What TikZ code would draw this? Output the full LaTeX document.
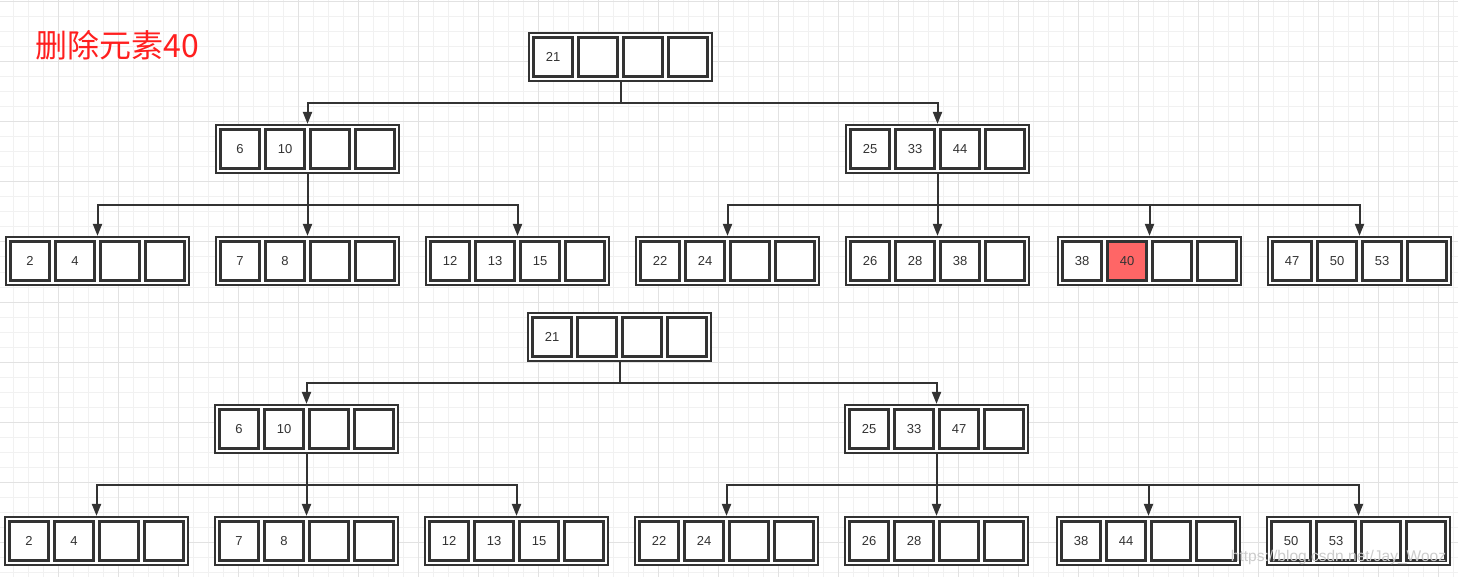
\documentclass[tikz,border=0pt]{standalone}
\usepackage{fontspec}
\setmainfont{Liberation Sans}
\newfontfamily\cjk{Noto Sans CJK SC}
\usetikzlibrary{arrows.meta}
\definecolor{ink}{HTML}{333333}
\definecolor{gridminor}{RGB}{241,241,241}
\definecolor{gridmajor}{RGB}{226,226,226}
\definecolor{hl}{HTML}{FF6666}
\definecolor{titlered}{HTML}{FF1F1F}
\tikzset{
  outerbox/.style={draw=ink, line width=2.2pt, fill=white, minimum width=183pt, minimum height=48pt, inner sep=0pt},
  cell/.style={draw=ink, line width=2.2pt, fill=white, minimum size=39pt, inner sep=0pt, text=ink, font=\fontsize{13}{13}\selectfont},
  conn/.style={draw=ink, line width=2pt, -{Triangle[width=9pt,length=12pt]}},
}
\newcommand{\btnode}[8][]{%
  \node[outerbox] (#2) at (#3,#4) {};
  \node[cell] (#2-1) at ([xshift=-67.5pt]#2.center) {#5};
  \node[cell,#1] (#2-2) at ([xshift=-22.5pt]#2.center) {#6};
  \node[cell] (#2-3) at ([xshift=22.5pt]#2.center) {#7};
  \node[cell] (#2-4) at ([xshift=67.5pt]#2.center) {#8};
}
\begin{document}
\begin{tikzpicture}[x=1pt,y=-1pt]
\useasboundingbox (0,0) rectangle (1458,577);
\fill[white] (0,0) rectangle (1458,577);
\foreach \x in {13,28,...,1453} \draw[gridminor, line width=1pt] (\x,0) -- (\x,577);
\foreach \y in {2,17,...,572} \draw[gridminor, line width=1pt] (0,\y) -- (1458,\y);
\foreach \x in {58,118,...,1438} \draw[gridmajor, line width=1pt] (\x,0) -- (\x,577);
\foreach \y in {2,62,...,542} \draw[gridmajor, line width=1pt] (0,\y) -- (1458,\y);

\node[text=titlered, font=\cjk\fontsize{32}{32}\selectfont, inner sep=0pt] (title) at (117.5,45) {删除元素40};

% ---- top tree ----
\btnode{r}{620.5}{57}{21}{}{}{}
\btnode{a}{307.5}{149}{6}{10}{}{}
\btnode{b}{937.5}{149}{25}{33}{44}{}
\btnode{a1}{97.5}{261}{2}{4}{}{}
\btnode{a2}{307.5}{261}{7}{8}{}{}
\btnode{a3}{517.5}{261}{12}{13}{15}{}
\btnode{b1}{727.5}{261}{22}{24}{}{}
\btnode{b2}{937.5}{261}{26}{28}{38}{}
\btnode[fill=hl]{b3}{1149.5}{261}{38}{40}{}{}
\btnode{b4}{1359.5}{261}{47}{50}{53}{}

\draw[conn] (r.south) -- ++(0,21) -| (a.north);
\draw[conn] (r.south) -- ++(0,21) -| (b.north);
\foreach \c in {a1,a2,a3} \draw[conn] (a.south) -- ++(0,31) -| (\c.north);
\foreach \c in {b1,b2,b3,b4} \draw[conn] (b.south) -- ++(0,31) -| (\c.north);

% ---- bottom tree ----
\btnode{R}{619.5}{337}{21}{}{}{}
\btnode{A}{306.5}{429}{6}{10}{}{}
\btnode{B}{936.5}{429}{25}{33}{47}{}
\btnode{A1}{96.5}{541}{2}{4}{}{}
\btnode{A2}{306.5}{541}{7}{8}{}{}
\btnode{A3}{516.5}{541}{12}{13}{15}{}
\btnode{B1}{726.5}{541}{22}{24}{}{}
\btnode{B2}{936.5}{541}{26}{28}{}{}
\btnode{B3}{1148.5}{541}{38}{44}{}{}
\btnode{B4}{1358.5}{541}{50}{53}{}{}

\draw[conn] (R.south) -- ++(0,21) -| (A.north);
\draw[conn] (R.south) -- ++(0,21) -| (B.north);
\foreach \c in {A1,A2,A3} \draw[conn] (A.south) -- ++(0,31) -| (\c.north);
\foreach \c in {B1,B2,B3,B4} \draw[conn] (B.south) -- ++(0,31) -| (\c.north);

\node[text=black!20, font=\fontsize{15.5}{15.5}\selectfont, inner sep=0pt] (wm) at (1338.5,557) {https://blog.csdn.net/Jay\_Wooz};
\end{tikzpicture}
\end{document}
